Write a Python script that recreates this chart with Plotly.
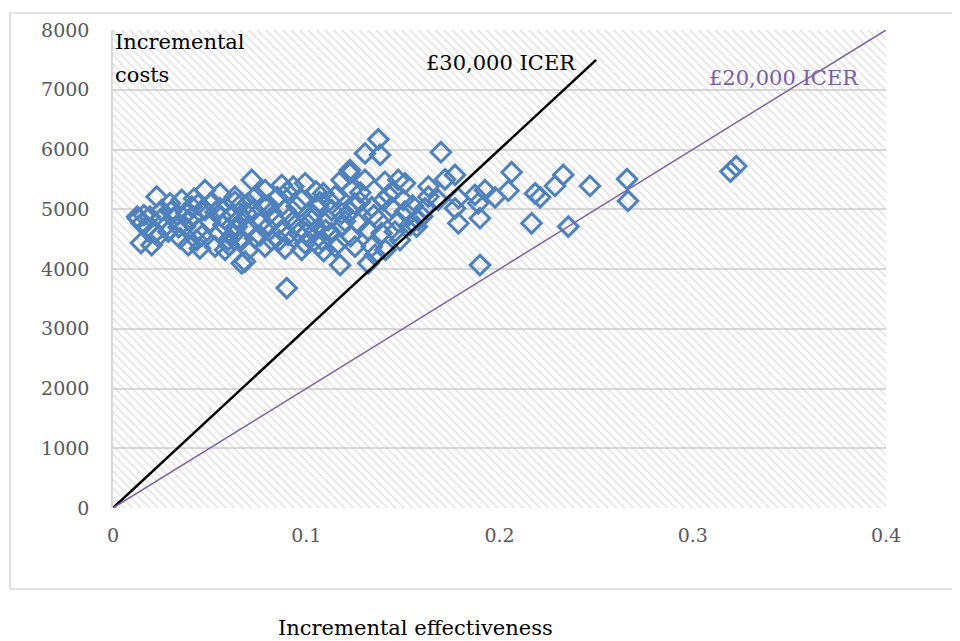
import plotly.graph_objects as go

# ---- data ----
eff = [
    0.0226, 0.0295, 0.0356, 0.0407, 0.0476, 0.0554, 0.0631,
    0.0125, 0.0191, 0.0252, 0.0312, 0.0381, 0.0415, 0.0476, 0.0554, 0.0614,
    0.0130, 0.0148, 0.0217, 0.0286, 0.0373, 0.0442, 0.0502, 0.0571, 0.0631,
    0.0145, 0.0234, 0.0347, 0.0433, 0.0528, 0.0597, 0.0657,
    0.0200, 0.0390, 0.0450, 0.0580, 0.0666,
    0.0718, 0.0787, 0.0873, 0.0933, 0.0994, 0.1088, 0.1183, 0.1226,
    0.0631, 0.0666, 0.0726, 0.0804, 0.0890, 0.0976, 0.1062, 0.1132, 0.1183,
    0.0692, 0.0640, 0.0700, 0.0761, 0.0838, 0.0942, 0.1028, 0.1114, 0.1183,
    0.0666, 0.0735, 0.0821, 0.0907, 0.0994, 0.1080, 0.1166,
    0.0700, 0.0787, 0.0890, 0.0976, 0.1062, 0.1149,
    0.0683, 0.1175, 0.0899,
    0.1373, 0.1304, 0.1382, 0.1697, 0.1226, 0.1770, 0.1718, 0.1632, 0.1787, 0.1770,
    0.1787, 0.1683, 0.1614, 0.1571, 0.1632, 0.1304, 0.1235, 0.1407, 0.1476, 0.1511,
    0.1425, 0.1502, 0.1278, 0.1339, 0.1442, 0.1511, 0.1226, 0.1270, 0.1373, 0.1476,
    0.1390, 0.1459, 0.1252, 0.1339, 0.1356, 0.1321,
    0.2063, 0.2046, 0.1977, 0.1925, 0.1890, 0.1873, 0.1899, 0.2184, 0.2210, 0.2166,
    0.2287, 0.2330, 0.2468, 0.2356, 0.1899,
    0.2660, 0.2665, 0.3195, 0.3225,
    0.0300, 0.0510, 0.0850, 0.0950, 0.1050, 0.1100, 0.0550, 0.0760, 0.0870, 0.1000,
    0.1120, 0.0820, 0.0600, 0.0280, 0.0160, 0.0650, 0.1030, 0.0900, 0.0740, 0.0420,
    0.0560, 0.1150, 0.1280, 0.1350, 0.1450, 0.1550, 0.1600, 0.1400, 0.1320, 0.1230,
    0.1090, 0.1537, 0.1580, 0.1485, 0.1410,
    0.0340, 0.0460, 0.0530, 0.0700, 0.0800, 0.0920, 0.1010, 0.1070, 0.1200, 0.0250,
    0.0390, 0.0620, 0.0780, 0.0960, 0.1130, 0.0180, 0.0440, 0.0860, 0.1050, 0.1250,
]
cost = [
    5210, 5100, 5155, 5045, 5320, 5265, 5125,
    4875, 4875, 4850, 4850, 4930, 4875, 4985, 5015, 4905,
    4845, 4765, 4600, 4625, 4710, 4655, 4790, 4735, 4680,
    4435, 4540, 4515, 4485, 4375, 4485, 4485,
    4400, 4400, 4345, 4320, 4095,
    5490, 5320, 5405, 5380, 5435, 5265, 5490, 5600,
    5210, 5100, 4985, 5070, 4985, 5155, 5045, 4985, 4930,
    4930, 4710, 4710, 4765, 4820, 4735, 4820, 4820, 4710,
    4485, 4515, 4485, 4570, 4430, 4485, 4430,
    4320, 4375, 4345, 4320, 4400, 4375,
    4125, 4065, 3680,
    6170, 5935, 5910, 5955, 5655, 5575, 5500, 5380, 5185, 5015,
    4765, 5155, 5015, 4710, 5210, 5490, 5320, 5460, 5490, 5435,
    5240, 5155, 5125, 5035, 5035, 4960, 4960, 4765, 4820, 4790,
    4600, 4625, 4375, 4375, 4235, 4095,
    5620, 5310, 5200, 5320, 5100, 5240, 4850, 5265, 5200, 4765,
    5390, 5575, 5390, 4710, 4065,
    5505, 5140, 5630, 5720,
    4960, 5120, 5200, 5050, 5300, 4650, 4600, 4560, 4640, 4600,
    5140, 4950, 4400, 4740, 4900, 4830, 4900, 5290, 5220, 5180,
    4880, 5220, 5280, 4900, 5300, 5060, 4880, 5150, 4650, 4550,
    4300, 4736, 4820, 4485, 4318,
    4700, 4560, 4950, 5100, 4700, 4880, 4750, 5120, 4800, 4980,
    4820, 4560, 5060, 4600, 4600, 4700, 5080, 4480, 4650, 5100,
]

icer30_x = [0, 0.25]
icer30_y = [0, 7500]
icer20_x = [0, 0.4]
icer20_y = [0, 8000]

x_range = [0, 0.4]
y_range = [0, 8000]
x_ticks = [0, 0.1, 0.2, 0.3, 0.4]
x_ticklabels = ["0", "0.1", "0.2", "0.3", "0.4"]
y_ticks = [0, 1000, 2000, 3000, 4000, 5000, 6000, 7000, 8000]
y_ticklabels = [str(v) for v in y_ticks]

SERIF = "DejaVu Serif"

fig = go.Figure()

# hatched plot-area background
fig.add_trace(go.Scatter(
    x=[x_range[0], x_range[1], x_range[1], x_range[0], x_range[0]],
    y=[y_range[0], y_range[0], y_range[1], y_range[1], y_range[0]],
    mode="lines", line=dict(width=0), fill="toself",
    fillcolor="rgba(0,0,0,0)",
    fillpattern=dict(shape="\\", fgcolor="#c4c4c4", bgcolor="rgba(0,0,0,0)",
                     size=6, solidity=0.25),
    hoverinfo="skip", showlegend=False,
))

fig.add_trace(go.Scatter(
    x=eff, y=cost, mode="markers",
    marker=dict(symbol="diamond-open", size=15, color="#4f81bd",
                line=dict(width=3, color="#4f81bd")),
    hoverinfo="skip", showlegend=False,
))

fig.add_trace(go.Scatter(
    x=icer30_x, y=icer30_y, mode="lines",
    line=dict(color="black", width=2.5),
    hoverinfo="skip", showlegend=False,
))
fig.add_trace(go.Scatter(
    x=icer20_x, y=icer20_y, mode="lines",
    line=dict(color="#8064a2", width=1.5),
    hoverinfo="skip", showlegend=False,
))

fig.update_layout(
    width=952, height=633,
    margin=dict(l=105, r=74, t=22, b=133),
    paper_bgcolor="white", plot_bgcolor="white",
    showlegend=False,
    font=dict(family=SERIF),
    xaxis=dict(range=x_range, tickvals=x_ticks, ticktext=x_ticklabels,
               showgrid=False, zeroline=False, showline=False,
               ticks="", ticklabelstandoff=14,
               tickfont=dict(family=SERIF, size=19, color="#595959")),
    yaxis=dict(range=y_range, tickvals=y_ticks, ticktext=y_ticklabels,
               showgrid=True, gridcolor="#d9d9d9", gridwidth=1.5,
               zeroline=False, showline=True, linecolor="#d9d9d9", linewidth=1.5,
               ticks="", ticklabelstandoff=18,
               tickfont=dict(family=SERIF, size=19, color="#595959")),
    shapes=[dict(type="rect", xref="paper", yref="paper",
                 x0=-0.1332, x1=1.12, y0=-0.1695, y1=1.0356,
                 line=dict(color="#d9d9d9", width=1.5), layer="below")],
    annotations=[
        dict(text="Incremental", xref="paper", yref="paper", x=0, y=0.975,
             xanchor="left", yanchor="middle", showarrow=False,
             font=dict(family=SERIF, size=21, color="black")),
        dict(text="costs", xref="paper", yref="paper", x=0, y=0.906,
             xanchor="left", yanchor="middle", showarrow=False,
             font=dict(family=SERIF, size=21, color="black")),
        dict(text="£30,000 ICER", xref="x", yref="y", x=0.2008, y=7448,
             xanchor="center", yanchor="middle", showarrow=False,
             font=dict(family=SERIF, size=21, color="black")),
        dict(text="£20,000 ICER", xref="x", yref="y", x=0.3472, y=7197,
             xanchor="center", yanchor="middle", showarrow=False,
             font=dict(family=SERIF, size=21, color="#7b5ca7")),
        dict(text="Incremental effectiveness", xref="paper", yref="paper",
             x=0.3907, y=-0.252, xanchor="center", yanchor="middle",
             showarrow=False, font=dict(family=SERIF, size=21, color="black")),
    ],
)

fig.write_html("out.html")
